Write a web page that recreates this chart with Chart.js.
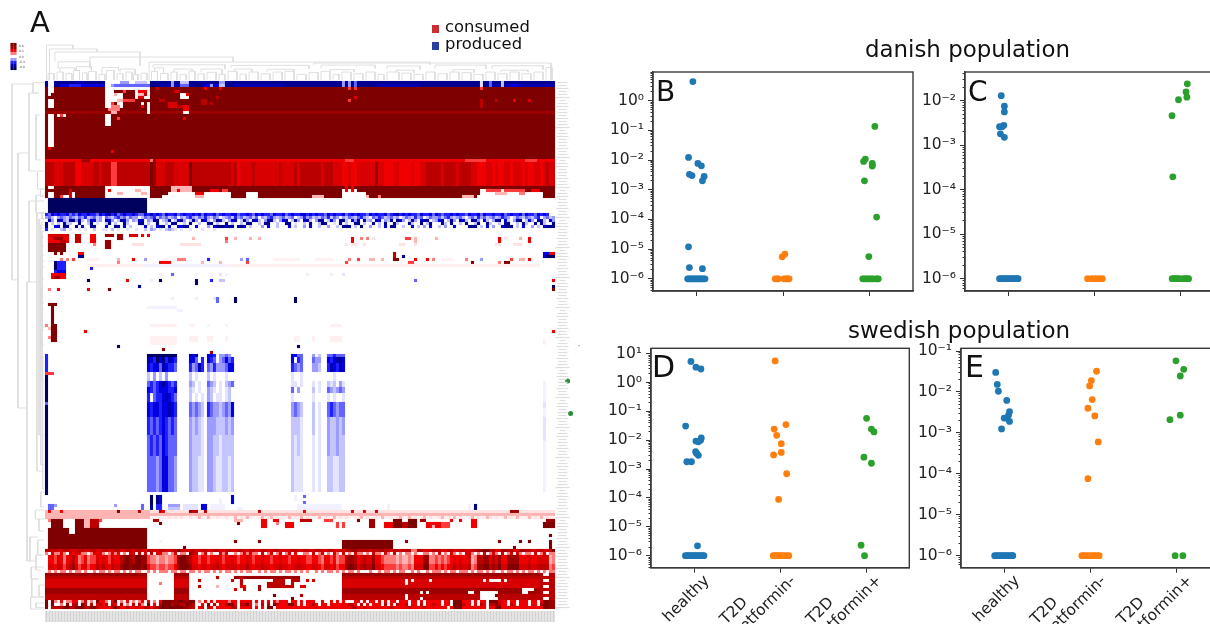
<!DOCTYPE html>
<html><head><meta charset="utf-8">
<style>
html,body{margin:0;padding:0;background:#fff;width:1210px;height:624px;overflow:hidden}
#page{position:relative;width:1210px;height:624px;overflow:hidden;font-family:"DejaVu Sans",sans-serif;color:#111}
canvas{position:absolute;filter:blur(.45px)}
#heat{filter:blur(.75px)}
.t{position:absolute;white-space:nowrap;line-height:1;filter:blur(.35px)}
.sq{position:absolute;width:7px;height:8px;filter:blur(.4px)}
</style>
<script src="https://cdn.jsdelivr.net/npm/chart.js@4"></script>
</head><body><div id="page">
<canvas id="heat"></canvas>
<canvas id="pB"></canvas><canvas id="pC"></canvas><canvas id="pD"></canvas><canvas id="pE"></canvas>
<div class="t" style="left:30px;top:8px;font-size:29px">A</div>
<div class="t" style="left:656px;top:78px;font-size:28px">B</div>
<div class="t" style="left:968px;top:78px;font-size:28px">C</div>
<div class="t" style="left:652px;top:352px;font-size:30px">D</div>
<div class="t" style="left:965px;top:352px;font-size:30px">E</div>
<div class="sq" style="left:432px;top:25px;background:#c9302f"></div>
<div class="sq" style="left:432px;top:42px;background:#2b3f9f"></div>
<div class="t" style="left:445px;top:19px;font-size:16.4px">consumed</div>
<div class="t" style="left:445px;top:36px;font-size:16.4px">produced</div>
<div class="t" style="left:865px;top:38px;font-size:22.9px">danish population</div>
<div class="t" style="left:848px;top:319px;font-size:23px">swedish population</div>
<div class="t" style="left:19px;top:44.5px;font-size:3px;color:#555">0.8</div>
<div class="t" style="left:19px;top:50px;font-size:3px;color:#555">0.4</div>
<div class="t" style="left:19px;top:55.7px;font-size:3px;color:#555">0.0</div>
<div class="t" style="left:19px;top:60.5px;font-size:3px;color:#555">-0.4</div>
<div class="t" style="left:19px;top:66px;font-size:3px;color:#555">-0.8</div>
</div>
<script>
// ---------- scatter panels ----------
const groupNames = [['', 'healthy'], ['T2D          ', 'metformin-'], ['T2D          ', 'metformin+']];
const floorValue = 1e-6;
const blue = '#1f77b4', orange = '#ff7f0e', green = '#2ca02c';

const bHealthyX = [-.04,-.09,.018,.058,-.08,-.05,.09,.07,-.09,-.08,.07];
const bHealthyY = [4.4,.0123,.0077,.0064,.0033,.003,.0028,.002,1.2e-5,2.4e-6,2.2e-6];
const bHealthyFloorX = [-.1,-.085,-.07,-.055,-.04,-.025,-.01,.005,.02,.035,.05,.065,.08,.1];
const bMetMinusX = [1.022,.99];
const bMetMinusY = [6.8e-6,5.5e-6];
const bMetMinusFloorX = [.91,.93,.945,1.01,1.03,1.045,1.06,1.07];
const bMetPlusX = [2.06,1.95,1.93,2.03,2.03,2.03,1.94,2.08,1.99];
const bMetPlusY = [.136,.0108,.009,.0077,.0068,.0063,.002,1.2e-4,5.6e-6];
const bMetPlusFloorX = [1.92,1.94,1.96,1.98,2,2.02,2.04,2.07,2.09,2.1];

const cHealthyX = [-.08,-.044,-.044,-.05,-.1,-.07,-.09,-.044];
const cHealthyY = [.013,.0075,.0056,.0028,.0026,.0026,.0018,.0015];
const cHealthyFloorX = [-.1,-.08,-.06,-.04,-.02,0,.02,.04,.06,.08,.1,.115];
const cMetMinusFloorX = [.92,.97,1.01,1.05,1.09];
const cMetPlusX = [2.075,2.06,2.07,1.973,1.898,1.907];
const cMetPlusY = [.024,.0157,.012,.0105,.0046,1.95e-4];
const cMetPlusFloorX = [1.9,1.92,1.94,1.96,1.98,2.02,2.05,2.07,2.09];

const dHealthyX = [-.036,.022,.08,-.098,.084,.076,.022,.05,.018,.03,.05,-.084,-.03,.04];
const dHealthyY = [5.4,3.4,2.95,.031,.012,.01,.0094,.0089,.004,.0035,.003,.0018,.0018,2.2e-6];
const dHealthyFloorX = [-.1,-.08,-.06,-.04,-.02,0,.02,.04,.06,.08,.1,.115];
const dMetMinusX = [.942,1.067,.93,.96,1.013,1.013,.924,1.076,.982];
const dMetMinusY = [5.6,.035,.0245,.0148,.0076,.0038,.0031,6.9e-4,8.9e-5];
const dMetMinusFloorX = [.92,.94,.96,.98,1,1.03,1.05,1.08,1.1];
const dMetPlusX = [2.004,2.06,2.09,1.973,2.06,1.94,1.98];
const dMetPlusY = [.0575,.0245,.0195,.0026,.0016,2.3e-6,1e-6];

const eHealthyX = [-.098,-.08,-.067,.03,.062,.05,0,.027,.062,-.03];
const eHealthyY = [.03,.0153,.0104,.0062,.0033,.0027,.0023,.0023,.0019,.00125];
const eHealthyFloorX = [-.11,-.09,-.07,-.05,-.03,-.01,.01,.03,.05,.07,.09,.1];
const eMetMinusX = [1.07,1.01,.99,1.02,.97,1.05,1.09,.97];
const eMetMinusY = [.032,.019,.014,.0065,.004,.0026,6e-4,7.6e-5];
const eMetMinusFloorX = [.9,.92,.94,.97,1,1.03,1.05,1.08,1.1];
const eMetPlusX = [1.99,2.08,2.04,2.04,1.92,1.98,2.07];
const eMetPlusY = [.0575,.0357,.0245,.0027,.0021,1e-6,1e-6];

const bTicks = [0,-1,-2,-3,-4,-5,-6], cTicks = [-2,-3,-4,-5,-6];
const dTicks = [1,0,-1,-2,-3,-4,-5,-6], eTicks = [-1,-2,-3,-4,-5,-6];

const SUP = {'-':'\u207B','0':'\u2070','1':'\u00B9','2':'\u00B2','3':'\u00B3','4':'\u2074','5':'\u2075','6':'\u2076','7':'\u2077','8':'\u2078','9':'\u2079'};
const pow10Label = e => '10' + String(e).split('').map(c => SUP[c]).join('');
const pts = (xs, ys) => xs.map((x, i) => ({x, y: ys[i]}));
const floorPts = xs => xs.map(x => ({x, y: floorValue}));

const boxPlugin = { id: 'box', afterDraw(c) {
  const a = c.chartArea, g = c.ctx; g.save(); g.strokeStyle = '#3a3a3a'; g.lineWidth = 1.4;
  g.strokeRect(a.left, a.top, a.right - a.left, a.bottom - a.top); g.restore(); } };

function panel(id, box, logMin, logMax, decades, series, labelled) {
  const cv = document.getElementById(id);
  const L = Math.round(box.l) - 52, T = Math.round(box.t) - 12;
  const W = Math.round(box.r) + 8 - L, H = (labelled ? 624 : Math.round(box.b) + 14) - T;
  cv.style.left = L + 'px'; cv.style.top = T + 'px'; cv.width = W; cv.height = H;
  new Chart(cv, {
    type: 'scatter',
    data: { datasets: series.map(s => ({ data: s.data, backgroundColor: s.color, borderWidth: 0, pointRadius: 3.4 })) },
    options: {
      responsive: false, animation: false, events: [], clip: false,
      layout: { autoPadding: false, padding: { top: box.t - T, right: W - (box.r - L), left: 0, bottom: 0 } },
      plugins: { legend: { display: false }, tooltip: { enabled: false } },
      scales: {
        x: { type: 'linear', min: -.5, max: 2.5,
          afterBuildTicks: s => { s.ticks = [{value:0},{value:1},{value:2}]; },
          afterFit: s => { s.height = H - (box.b - T); s.paddingLeft = 0; s.paddingRight = 0; },
          grid: { drawOnChartArea: false, tickLength: 5, tickColor: '#333', tickWidth: 1 },
          border: { color: '#3a3a3a', width: 1.4 },
          ticks: { display: labelled, autoSkip: false, minRotation: 45, maxRotation: 45, padding: -14, labelOffset: 0, color: '#222',
            font: { family: 'DejaVu Sans', size: 15.5 }, callback: v => groupNames[v] } },
        y: { type: 'logarithmic', min: Math.pow(10, logMin), max: Math.pow(10, logMax),
          afterBuildTicks: s => {
            const out = [];
            for (let e = Math.floor(logMin); e <= Math.ceil(logMax); e++) for (let m = 1; m < 10; m++) {
              const lv = e + Math.log10(m);
              if (lv >= logMin && lv <= logMax) out.push({ value: m * Math.pow(10, e), major: m === 1 && decades.includes(e), exp: e });
            }
            s.ticks = out;
          },
          afterFit: s => { s.width = box.l - L; s.paddingTop = 0; s.paddingBottom = 0; },
          grid: { drawOnChartArea: false, tickLength: 5, tickColor: '#333', tickWidth: 1,
            tickBorderDash: c => (c.tick && c.tick.major) ? [] : [0, 2.5, 2.5, 100] },
          border: { color: '#3a3a3a', width: 1.4 },
          ticks: { autoSkip: false, padding: 4, color: '#222', font: { family: 'DejaVu Sans', size: 15.5 },
            major: { enabled: true },
            callback: function (v, i, arr) { const t = arr[i]; return t.major ? pow10Label(t.exp) : ''; } } }
      }
    },
    plugins: [boxPlugin]
  });
}

panel('pB', {l:653,t:72,r:913,b:291}, -6.41, .967, bTicks, [
  {color: blue, data: pts(bHealthyX,bHealthyY).concat(floorPts(bHealthyFloorX))},
  {color: orange, data: pts(bMetMinusX,bMetMinusY).concat(floorPts(bMetMinusFloorX))},
  {color: green, data: pts(bMetPlusX,bMetPlusY).concat(floorPts(bMetPlusFloorX))}], false);
panel('pC', {l:965,t:72,r:1224,b:291}, -6.276, -1.355, cTicks, [
  {color: blue, data: pts(cHealthyX,cHealthyY).concat(floorPts(cHealthyFloorX))},
  {color: orange, data: floorPts(cMetMinusFloorX)},
  {color: green, data: pts(cMetPlusX,cMetPlusY).concat(floorPts(cMetPlusFloorX))}], false);
panel('pD', {l:651,t:348.3,r:909.3,b:567.7}, -6.416, 1.187, dTicks, [
  {color: blue, data: pts(dHealthyX,dHealthyY).concat(floorPts(dHealthyFloorX))},
  {color: orange, data: pts(dMetMinusX,dMetMinusY).concat(floorPts(dMetMinusFloorX))},
  {color: green, data: pts(dMetPlusX,dMetPlusY)}], true);
panel('pE', {l:961,t:348.3,r:1220,b:567.7}, -6.293, -.934, eTicks, [
  {color: blue, data: pts(eHealthyX,eHealthyY).concat(floorPts(eHealthyFloorX))},
  {color: orange, data: pts(eMetMinusX,eMetMinusY).concat(floorPts(eMetMinusFloorX))},
  {color: green, data: pts(eMetPlusX,eMetPlusY)}], true);

// ---------- heat map (A): column / row index data, level codes: z,1-9 consumed, y,a-i produced, '.' none ----------
const levelColors = {z:'#fff1f1','1':'#ffe2e2','2':'#ffb4b4','3':'#ff7c7c','4':'#ff3c3c','5':'#f00000','6':'#d80000','7':'#bc0000','8':'#9c0000','9':'#7f0000',
  y:'#f1f1ff',a:'#e4e4ff',b:'#c4c4ff',c:'#9c9cff',d:'#6464ff',e:'#2020ff',f:'#0000e0',g:'#0000b0',h:'#000090',i:'#000060'};
const nCols = 170, nRows = 176;
// [firstRow, endRow, firstCol, endCol, level]
const heatRuns = [
 [0,1,0,170,'h'],[1,2,0,170,'h'],[2,26,0,170,'9'],[10,11,0,170,'8'],
 [1,2,5,20,'f'],[1,2,8,12,'e'],[0,1,10,13,'g'],[1,2,38,48,'g'],[1,2,53,60,'f'],[1,2,63,80,'g'],[1,2,110,125,'g'],[1,2,148,170,'g'],
 [0,2,42,43,'c'],[0,2,45,48,'b'],[1,2,45,48,'d'],[1,2,55,56,'c'],[0,1,58,60,'c'],[1,2,58,60,'b'],
 [0,2,99,100,'c'],[0,2,101,102,'c'],[0,2,103,104,'d'],[0,2,145,146,'a'],[0,2,148,149,'d'],[0,2,152,153,'b'],[1,2,155,158,'f'],
 [0,4,1,3,'.'],[4,5,1,2,'.'],[6,9,1,3,'.'],[11,22,1,3,'.'],[22,23,1,2,'5'],[11,12,4,7,'.'],[11,12,5,6,'4'],
 [0,2,20,35,'.'],[1,2,23,35,'d'],[0,1,25,28,'c'],[0,1,30,34,'b'],[1,2,22,23,'c'],
 [2,3,20,35,'.'],[3,4,20,23,'.'],[3,5,30,35,'.'],[3,4,26,27,'4'],[3,4,31,34,'5'],[4,5,33,34,'7'],[4,6,20,26,'.'],[4,5,31,33,'2'],[4,5,23,24,'2'],
 [5,6,30,35,'.'],[5,6,31,33,'6'],[6,9,20,26,'.'],[6,7,24,26,'2'],[6,7,26,30,'4'],[7,8,23,24,'9'],[7,8,22,23,'4'],[8,9,22,25,'3'],[7,8,32,33,'.'],[8,9,32,33,'5'],
 [7,11,34,35,'.'],[9,10,21,25,'3'],[10,11,22,24,'2'],[11,15,20,22,'.'],[12,13,24,25,'4'],[23,24,22,23,'5'],
 [2,3,37,38,'7'],[3,4,43,45,'6'],[4,6,45,48,'.'],[4,5,47,48,'5'],[6,7,38,40,'7'],[7,9,41,44,'6'],[8,10,46,48,'5'],[8,9,44,46,'7'],[10,11,46,48,'.'],[12,13,46,47,'5'],
 [2,3,53,54,'5'],[6,8,52,54,'7'],[7,8,55,56,'7'],[2,3,58,59,'5'],[5,6,57,58,'7'],
 [2,3,101,102,'4'],[6,7,101,102,'4'],[2,3,103,104,'4'],[5,6,103,104,'6'],[2,3,145,146,'4'],[6,9,145,146,'7'],[6,7,150,151,'7'],[6,7,156,157,'5'],[6,7,161,162,'6'],
 [26,27,0,170,'5'],[26,27,12,15,'8'],[26,27,36,37,'8'],[26,27,35,36,'3'],[26,27,100,103,'4'],[26,27,140,147,'4'],[26,27,160,164,'4'],
 // rows 35..38: dark band with white skyline
 [35,39,0,170,'9'],[35,36,1,3,'.'],[37,39,1,3,'.'],[38,39,6,8,'.'],[37,39,9,10,'.'],[38,39,5,6,'4'],[36,39,8,9,'6'],
 [35,39,20,35,'.'],[36,37,21,22,'5'],[37,38,24,26,'2'],[36,37,30,32,'2'],[37,38,32,34,'2'],
 [38,39,39,41,'.'],[37,39,41,50,'.'],[35,37,42,49,'2'],[36,37,44,45,'5'],[38,39,50,53,'2'],[37,38,50,53,'5'],[37,39,53,62,'.'],[36,37,55,58,'5'],[36,37,59,61,'4'],
 [37,39,67,71,'.'],[38,39,89,93,'2'],[36,39,99,104,'.'],[35,37,100,101,'5'],[35,37,102,103,'5'],[37,39,104,107,'.'],[38,39,107,108,'2'],[38,39,111,112,'3'],
 [38,39,139,143,'2'],[38,39,144,147,'.'],[36,39,145,147,'.'],[37,39,147,166,'.'],[36,37,147,160,'4'],[37,38,150,154,'2'],[36,37,152,153,'.'],[37,38,158,160,'3'],[36,37,162,165,'5'],
 // produced block
 [39,44,1,34,'i'],
 // scattered rows
 [51,52,1,8,'6'],[52,54,1,8,'5'],[52,53,3,6,'8'],[53,54,5,7,'7'],[51,54,10,12,'7'],[51,54,15,17,'5'],[54,55,16,17,'3'],[51,52,20,23,'8'],[51,53,24,26,'8'],
 [51,52,28,31,'6'],[51,52,32,33,'5'],[51,52,34,35,'5'],[54,57,1,7,'9'],[57,58,3,4,'9'],[57,58,5,6,'9'],[53,56,20,22,'8'],[54,55,29,33,'1'],[54,55,45,52,'1'],
 [52,53,49,50,'2'],[52,53,60,61,'4'],[53,54,60,61,'3'],[52,53,63,64,'2'],[52,53,68,69,'2'],[52,53,71,72,'2'],
 [52,54,102,103,'5'],[52,53,105,106,'3'],[52,53,107,108,'3'],[52,53,109,110,'1'],[52,53,120,122,'4'],[52,54,123,124,'2'],[52,53,130,131,'2'],[52,54,151,152,'5'],[52,53,153,154,'1'],[52,53,158,159,'2'],[52,54,161,162,'5'],
 [54,55,100,101,'1'],[54,55,102,104,'1'],[54,55,106,107,'1'],[54,55,118,120,'1'],[54,55,123,124,'1'],[54,55,156,159,'1'],[54,55,150,152,'1'],
 [57,58,11,13,'5'],[58,59,11,13,'h'],[57,59,116,117,'7'],[58,59,119,120,'h'],[57,59,166,170,'f'],[58,59,167,170,'i'],[57,58,168,170,'5'],[59,60,116,118,'9'],
 [59,60,5,6,'3'],[59,60,7,8,'3'],[59,60,9,10,'4'],[59,60,14,18,'z'],[59,60,24,25,'2'],[59,60,29,30,'5'],[59,60,33,34,'c'],[59,60,39,41,'z'],[59,60,44,47,'3'],[59,60,54,55,'e'],[59,60,65,66,'c'],[59,60,67,68,'d'],[59,60,76,85,'z'],
 [59,60,90,96,'z'],[59,60,101,102,'3'],[59,60,104,105,'4'],[59,60,108,110,'2'],[59,60,112,113,'2'],[59,60,123,124,'5'],[59,60,127,128,'5'],[59,60,129,130,'3'],[59,60,132,136,'z'],[59,60,140,141,'3'],[59,60,145,146,'c'],[59,60,155,156,'4'],[59,60,158,160,'2'],[59,60,161,162,'5'],
 [60,61,24,25,'3'],[60,61,38,42,'5'],[60,61,52,53,'2'],[60,61,58,59,'2'],[60,61,67,68,'4'],[60,61,100,101,'4'],[60,61,121,123,'4'],[60,61,142,143,'9'],[60,61,153,155,'9'],[60,61,151,152,'3'],
 [61,62,14,165,'z'],[61,62,33,60,'y'],[60,64,3,7,'e'],[60,63,3,4,'i'],[63,64,4,7,'f'],[62,63,15,16,'e'],[64,66,2,7,'5'],[65,66,3,5,'8'],
 [64,65,38,39,'y'],[64,65,42,43,'d'],[64,65,50,51,'y'],[64,65,55,56,'y'],[64,65,58,59,'a'],[64,65,60,61,'y'],[64,65,87,88,'y'],[64,65,95,96,'y'],[64,65,99,100,'a'],
 [66,67,14,15,'i'],[66,67,27,28,'5'],[66,67,35,36,'y'],[66,67,38,39,'i'],[66,68,50,51,'i'],[66,67,55,56,'e'],[66,67,58,59,'b'],[66,67,59,60,'b'],[66,67,123,124,'d'],[66,67,169,170,'5'],
 [68,69,31,32,'h'],[68,69,169,170,'i'],[69,70,1,2,'3'],[69,70,4,5,'5'],[69,70,14,15,'5'],[69,70,21,22,'9'],[69,70,169,170,'9'],
 [72,73,42,43,'y'],[72,73,50,51,'y'],[72,73,56,57,'a'],[72,74,57,58,'d'],[72,74,63,64,'i'],[72,74,83,84,'i'],
 [74,75,1,4,'9'],[75,81,2,3,'9'],[81,87,2,4,'9'],[75,76,34,44,'y'],[76,77,44,46,'y'],
 [81,82,0,1,'3'],[83,84,13,14,'5'],[83,84,169,170,'5'],[82,83,1,2,'2'],[85,86,1,2,'3'],
 [81,82,35,44,'z'],[81,82,48,50,'z'],[81,82,54,55,'z'],[81,82,60,61,'z'],[85,88,35,44,'z'],[85,87,48,51,'z'],[85,87,54,56,'z'],[85,87,60,61,'z'],[85,87,83,85,'z'],[85,87,89,90,'z'],[81,82,95,99,'z'],[85,87,95,99,'z'],
 [88,89,24,25,'i'],[89,90,39,40,'9'],[90,91,55,56,'8'],[88,89,84,85,'i'],[86,88,166,167,'z'],
 // left narrow column
 [91,97,0,1,'e'],[97,138,0,1,'i'],[97,98,0,3,'4'],[107,108,0,1,'d'],[100,137,166,167,'y'],[112,120,166,167,'a'],[107,109,166,167,'a'],
 // below block
 [138,142,35,36,'i'],[138,141,38,39,'f'],[138,141,37,38,'h'],[139,141,58,59,'y'],[138,141,62,63,'f'],[138,139,86,87,'d'],[140,141,86,87,'d'],[138,140,83,84,'y'],
 [141,143,1,3,'d'],[141,142,3,4,'c'],[141,142,23,24,'c'],[141,143,32,33,'d'],[141,143,35,36,'h'],[141,143,37,39,'e'],[141,142,41,45,'c'],[142,143,41,45,'b'],[141,143,52,54,'f'],[141,143,46,51,'a'],[141,143,55,60,'y'],[142,143,64,66,'y'],[141,143,84,99,'y'],[141,143,141,142,'y'],[141,143,143,144,'h'],[141,143,114,115,'y'],
 [143,144,0,170,'1'],[144,145,0,170,'2'],[145,146,0,170,'z'],[143,146,0,35,'2'],
 // dark blocks
 [146,149,2,6,'9'],[146,151,10,13,'9'],[146,149,13,15,'2'],[146,149,15,18,'7'],[146,147,18,19,'4'],[149,156,1,34,'9'],[149,151,8,10,'.'],[149,150,6,8,'9'],[146,147,1,2,'3'],
 [146,147,36,38,'7'],[147,148,38,39,'9'],[147,148,64,65,'9'],[146,147,63,66,'2'],[145,146,67,68,'7'],[146,149,72,74,'5'],[146,147,76,78,'5'],[147,148,77,78,'3'],[147,149,80,83,'5'],
 [146,147,85,89,'7'],[146,147,93,96,'4'],[147,149,97,98,'4'],[147,149,99,100,'4'],[146,147,104,105,'9'],[146,149,108,110,'8'],[147,149,113,116,'5'],[146,149,116,119,'9'],[147,149,119,121,'7'],[146,149,121,124,'9'],[146,147,125,127,'8'],
 [147,149,127,132,'5'],[148,149,129,130,'2'],[147,149,132,135,'4'],[146,147,135,136,'5'],[146,147,138,139,'5'],[146,149,142,144,'5'],[147,149,166,170,'9'],[146,147,167,170,'8'],
 [153,154,38,39,'z'],[153,154,63,64,'9'],[153,154,71,72,'9'],[153,156,99,116,'9'],[153,154,120,121,'8'],[153,154,151,152,'9'],[155,156,156,157,'9'],[153,154,158,159,'9'],[153,154,161,162,'9'],[151,152,168,169,'9'],[153,156,168,169,'9'],[155,156,46,47,'9'],
 // horizontal bands
 [164,165,0,34,'8'],[165,166,0,34,'7'],[166,167,0,34,'6'],[167,169,0,34,'6'],[169,171,0,34,'8'],[171,173,0,34,'7'],
 [164,165,43,48,'8'],[165,166,43,48,'7'],[166,169,43,48,'6'],[169,171,43,48,'8'],[171,173,43,48,'7'],
 [164,165,99,165,'8'],[165,166,99,165,'7'],[166,169,99,165,'6'],[169,171,99,165,'8'],[171,173,99,165,'7'],
 [164,173,165,166,'7'],[164,173,168,170,'7'],[165,166,166,168,'7'],[167,168,166,168,'7'],[169,170,166,168,'7'],[171,172,166,168,'7'],
 [167,168,38,39,'3'],[170,171,38,39,'z'],[166,167,51,52,'7'],[168,169,51,52,'7'],[165,166,57,58,'7'],[166,167,62,63,'6'],
 [165,166,63,85,'8'],[165,168,65,66,'7'],[168,169,65,67,'6'],[168,170,71,72,'8'],[167,169,74,83,'7'],[166,167,76,85,'7'],[166,168,80,82,'.'],[169,170,63,64,'6'],[169,170,66,67,'6'],[171,172,76,77,'9'],[172,173,82,83,'9'],[168,169,57,58,'2'],[168,169,60,61,'z'],
 [166,167,87,88,'6'],[166,167,89,90,'6'],[168,169,85,87,'6'],[171,172,85,86,'7'],
 [166,167,120,121,'.'],[166,167,122,123,'.'],[166,167,128,129,'.'],[167,168,120,121,'.'],[170,171,125,126,'.'],[170,171,127,128,'.'],[171,172,120,121,'.'],[170,171,141,143,'.'],[166,167,146,147,'.'],[166,167,148,152,'.'],[166,167,153,154,'.'],
 [170,173,145,151,'.'],[171,172,150,151,'9'],[169,171,159,161,'.'],[169,170,161,163,'.'],[172,173,125,126,'.'],[172,173,120,121,'.']
];
// [firstRow, endRow, firstCol, per-column levels]
const heatStripes = [
 [27,35,0,'7776667777 5566667767 7744777777 7777798666 7776666697 7777777777 7767566667 6666666676 6667677777 7767776665 5655666666 8665556655 5565566777 7767777677 7766555665 6556656665 6556656766'],
 [44,45,0,'edfefeefde dfeefeedfe fgefdefeef eddfegefed feefdefeef efdfeefdef eeffdeefed fefeedfeef defeefgefe feedfefeef defefeedfe feefdefgef efeedfeefd fedeefefee dfeefdfeef eefdefeefd feedfefe'],
 [45,46,0,'cdb.cdcbdc bdcebcdbc. dcbdecdbdc c.bdcdebdc dbcd.cbdec bdcecbdc.b cdbecdbcdb d.cbdecbcd bcd.bcecdb cbdcebdc.c bdcbdecb.d cedbcdbc.b dcbecd.bdc cdbdecbcdb .cdbecdbcd bcedc.bdcb dcbde.cdbc'],
 [46,47,0,'.gc.gfcbgh cgb.cgfbc. gfc.bhgc.c bfg.cbgh.b cg.bfhc.bg c.gfb.chgb .cfg.bhc.g fb.cghb.cf g.bhc.fgb. chg.bfc.gh b.fcg.hbc. gf.cbg.hfc .bgc.fhg.b cfg.bhc.gf b.hgc.fb.c gh.fb.cgh. bfc.ghb.fc'],
 [47,48,0,'h.b.b.hbb. .h..bh.a.. bh.b..hb.. .hh.b..h.. b.hh..b.h. .b..hh.b.. h.b..b.hh. .b.hh..b.. hh.a..b.h. .bhh..a.h. b..hh.b..h .b.h..hb.. .hb..h.bh. ..hb.h..b. h..bh..hb. .b.hh..b.h b..h.hb..h'],
 [48,49,0,'h..ff.hh.. h.f..hh... f..hh.f.b. ...f.b.fhh .f..ffhh.. f...c.fhhh fhh.ghf.b. ..c.f..b.. .f.b..c.f. .b..c..b.h hh.b.i..c. .b.f.hh..b ..f.b.c.f. .b.c..f... .hhh.b.f.c ..fhhh.b.f ..c.b.fhhh'],
 [49,50,0,'e.a..bc.a. .a.a..b..a a.b.a..a.. a..b.cb.a. bcba.a..a. ..a...a...'],
 [156,157,0,'7767667766 6776677667 7667766776 7766776677 6677976677 6677667766 7766776677 6677667766 6677667766 7766776666 7788777767 7787767767 7733776667 7766776677 6677889977 6688776688 7766776679'],
 [157,158,0,'3.63363.65 6633.36563 .3635.3.66 .7.6.7.663 3.36.33.87 6.36.3..63 6..3.36363 3.6.36.36. 36.6..33.6 .36.3.63.6 .3.633.3.6 33.63.6.3. 33.3..33.3 .6.3.63.3. 663.3.6.36 3.6.36.63. 33.6.36.33'],
 [158,161,0,'.554653567 5345344656 5465578987 9988433233 2334899875 5455455654 5565455654 5565545565 5455655445 5435545344 7887567668 5543333232 2325558833 4343456565 5623778867 6855888855 5655666623'],
 [161,163,0,'.665764678 6456455767 6576689989 9989544344 3445899986 6566566765 6676566765 6676656676 6566766556 6546656455 8998678779 6654444343 3436669944 5454567676 6734889978 7966999966 6766777734'],
 [163,164,0,'.3.3.33.3. 33.3..3.33 .3.33.3.3. 33..3.3.33 3.33.33.33 .3.33.3.3. 33.3.3.33. .3.3.33.3. 33.3.3.3.. 3.3.33.3.3 .33.3...3. .3.33.3.33 ..3.3..3.3 33.3.33.33 3.3.33.3.3 ..3.33.3.3 .33.3.3.33'],
 [173,174,0,'9.93.5.335 5.36.3.955 3.59.3.5.3 .35.5.3.59 9988998899 .3.5.5.555 5355.5555. 5.5.5.5355 5.55.5.555 ..5..5.5.5 ...55.5.55 .5.5.55.55 5.55.5.555 55.55.9995 55.5.55.99 9655.55.55 5.55.59988'],
 [174,175,0,'9.9..3.9.7 7.97.7.675 7.75.7.3.7 .73.9.5.79 9978877987 ..5.9.7.55 7995.7795. 3.7.7.9755 5995.5.557 5.55.55555 5775.7.5.5 55.7.5.755 7.55.7.557 55.55.9997 55.5.75.77 9755.75.55 5.55.79988'],
 [175,176,0,'9.77779977 9997799755 5579755755 7557757799 9999998877 .57.75.555 5577.5555. 5.5.99.555 5555555555 5555555555 5577557555 5555575555 5755557555 5555.59995 5555555.55 9955555555 5555559988']
];
// spots laid over the pale band: '.' leaves the band as it is
const bandSpots = [
 [143,144,0,'.5...5.... .......... ....9..... .7......75 ........87 7..7...... ...........7 ..........  ....5..... .......... 6...6...6. .......... .......... .......... .......... ...888.... ..........'],
 [145,146,0,'.......... .......... .......... .......... .1.1.1..1. .2..2..1.. 1..2.1.2.. ..2.12.1.. .2.1.2.1.. .2.1..2.1. 1...12.1.. 1.2..1.12. .2.1..2.1. .12.1.2.1. ..2.1..21. 1..2.1.2.. .2.1.2.1..']
];
// groups of produced columns and their levels per row span
const blockCols = [34,48,54,58,82,89,91,94];
const blockBands = [
 [91,92,['iiiiiiiiii','gfh..','ffe.','ccdc.','ffdd','c','b','ddeddd']],
 [92,94,['hfeifhegfe','ffd.e','fed.','cdfde','f.ed','dc','c','fefghf']],
 [94,97,['feffdgfeed','ecdge','dcec','ccdff','edcd','cc','b','egfegf']],
 [97,100,['b.c.b.c...','b.a..','b.a.','..a..','a..a','.','.','..a...']],
 [100,102,['dedefhfede','cb.a.','dcb.','a.bcd','aa.a','a','a','bab.ca']],
 [102,104,['fedefffeef','ba.a.','cba.','a.ab.','d.c.','b','a','dcbcdc']],
 [104,107,['e.deefgfed','b.a.a','cb.a','a.ab.','a...','a','.','a.a..a']],
 [107,112,['feffeffgfe','dcdcb','edcc','bcdcf','cdcb','b','a','dedcdd']],
 [112,118,['ededefeded','cbcba','cccb','bbcbc','bbba','b','a','cbbcbc']],
 [118,125,['dededfeddd','cbbba','ccbb','abbbb','baba','a','a','cbbcbb']],
 [125,137,['dddcdffddc','cbbaa','ccba','abbab','baaa','a','a','bbaabb']]
];
const colorbarLevels = ['9','8','5','3','.','c','e','g','i'];
const colorbarFirstRow = -12.17;
// tree links: [from, to, level, end1, end2]
const topTreeLinks = [
 [.5,9.3,-12,-.3,-10.67],[1.5,17.3,-10.67,-.3,-9.67],[3.3,31.7,-9.67,-6.5,-5],[15,62.7,-8,-6.4,-6.3],[4.4,15,-6.4,-4,-4.2],
 [34.7,128.4,-6.3,-.3,-5.4],[89.6,168.7,-6,-5.4,-.3],[36,60,-5.4,-4.4,-4],[62,88,-5.2,-4.5,-4],[92,110,-5.3,-4.3,-4.2],[114,125,-5,-4,-3.8],[130,147,-5.3,-4.2,-4],[149,166,-5.1,-4,-3.8],
 [5,10,-4.4,-3,-3.5],[10.5,15.5,-4.8,-3.5,-3.2],[19,24.5,-4.5,-2.2,-3.5],[25,30,-4,-3,-2.2],[36.5,39.5,-4.4,-3.2,-2.5],[43,49,-4,-3,-3.3],[52,59,-4,-2.9,-2.2],[63,69,-4,-3.2,-3],[74,83,-3.9,-3,-3.2],[95,103,-3.8,-3.2,-3],[117,123,-3.6,-3,-2.6],[136,143,-3.8,-3,-2.8],[152,161,-3.6,-3,-3],
 [1,3,-2.5,-.3,-.3],[4,6,-3,-.3,-.3],[7,9,-2.5,-.3,-.3],[9.5,11.5,-3.5,-.3,-.3],[12.5,14,-2.7,-.3,-.3],[14.5,17,-3.2,-.3,-.3],[18,20,-2.2,-.3,-.3],[20.5,23,-3.5,-.3,-.3],[24,26,-2.4,-.3,-.3],[27,29,-3,-.3,-.3],[29.5,31,-2.2,-.3,-.3],[32,34,-2.6,-.3,-.3],
 [35.5,37.5,-3.2,-.3,-.3],[38.5,41,-2.5,-.3,-.3],[42,44,-3,-.3,-.3],[45,47,-2.2,-.3,-.3],[48,50,-3.3,-.3,-.3],[51,53,-2.4,-.3,-.3],[54,57,-2.9,-.3,-.3],[58,60,-2.2,-.3,-.3],[61,64,-3.2,-.3,-.3],[65,67,-2.3,-.3,-.3],[68,71,-3,-.3,-.3],[72,75,-2.4,-.3,-.3],[76,79,-3,-.3,-.3],[80,83,-3.2,-.3,-.3],[84,87,-2.2,-.3,-.3],[88,91,-2.8,-.3,-.3],[92,95,-3.2,-.3,-.3],[96,98,-2.2,-.3,-.3],[99,102,-3,-.3,-.3],[103,106,-2.4,-.3,-.3],[107,110,-3,-.3,-.3],[111,113,-2.2,-.3,-.3],[114,118,-3,-.3,-.3],[119,122,-2.6,-.3,-.3],[123,126,-2.2,-.3,-.3],[127,130,-3,-.3,-.3],[131,134,-2.4,-.3,-.3],[135,138,-3,-.3,-.3],[139,142,-2.8,-.3,-.3],[143,146,-2.2,-.3,-.3],[147,150,-3,-.3,-.3],[151,154,-2.4,-.3,-.3],[155,158,-3,-.3,-.3],[159,162,-2.4,-.3,-.3],[163,166,-3,-.3,-.3],[167,169,-4.5,-.3,-.3]
];
const leftTreeLinks = [
 [1,66.3,-11,-4,-9],[.5,4,-4,-.3,-2],[4,30,-5.3,-2,-3],[11.3,26.3,-3,-1.6,-1.4],[24,109,-9,-5.3,-6],[30,36,-2.5,-.3,-.3],[36,38.5,-1.5,-.3,-.3],
 [40,67,-5.3,-.3,-6],[67,160,-6,-3,-4.8],[44,130,-2.7,-.3,-.3],[46,118,-2,-.3,-.3],[48,128,-1.4,-.3,-.3],[50,100,-1,-.3,-.3],[92,136,-.8,-.3,-.3],[38,44,-3,-.3,-.3],
 [44,46,-1,-.3,-.3],[47,49,-1.2,-.3,-.3],[52,55,-1.5,-.3,-.3],[58,60,-1.2,-.3,-.3],[62,66,-1.4,-.3,-.3],[69,74,-1.2,-.3,-.3],[76,82,-1,-.3,-.3],[83,88,-1.3,-.3,-.3],
 [137,142,-1.4,-.3,-.3],[143,146,-3.2,-.3,-2],[146,150,-2,-.3,-.3],[152,160,-5,-2.4,-3],[153,158,-2.4,-.3,-.3],[158,163,-3,-1,-1.4],[162,166,-4.6,-.3,-2.2],[166,172,-4.4,-2,-3],[168,172,-2,-.3,-.3],[172,176,-4.8,-.3,-.3],[174,175.5,-3,-.3,-.3]
];
const rowLabelLengths = [5,4,6,4,5,7,3,5,6,4];

// build cell list from the tables
const grid = Array.from({length: nRows}, () => new Array(nCols).fill('.'));
function put(r0, r1, c0, c1, lv) { for (let r = r0; r < r1 && r < nRows; r++) for (let c = c0; c < c1 && c < nCols; c++) grid[r][c] = lv; }
function stripe(r0, r1, c0, s, skipEmpty) { const t = s.replace(/ /g, ''); for (let r = r0; r < r1; r++) for (let i = 0; i < t.length && c0 + i < nCols; i++) if (!skipEmpty || t[i] !== '.') grid[r][c0 + i] = t[i]; }
heatStripes.forEach(s => stripe(s[0], s[1], s[2], s[3]));
blockBands.forEach(b => b[2].forEach((s, i) => stripe(b[0], b[1], blockCols[i], s)));
heatRuns.forEach(x => put(x[0], x[1], x[2], x[3], x[4]));
bandSpots.forEach(s => stripe(s[0], s[1], s[2], s[3], true));

const cells = [], cellColors = [];
grid.forEach((row, r) => row.forEach((lv, c) => { if (lv !== '.') { cells.push({x: c + .5, y: r + .5}); cellColors.push(levelColors[lv]); } }));
colorbarLevels.forEach((lv, i) => { if (lv !== '.') [-11, -10].forEach(x => { cells.push({x, y: colorbarFirstRow + i}); cellColors.push(levelColors[lv]); }); });

const treePath = [];
topTreeLinks.forEach(l => treePath.push({x:l[0],y:l[3]},{x:l[0],y:l[2]},{x:l[1],y:l[2]},{x:l[1],y:l[4]},{x:l[0],y:null}));
leftTreeLinks.forEach(l => treePath.push({x:l[3],y:l[0]},{x:l[2],y:l[0]},{x:l[2],y:l[1]},{x:l[4],y:l[1]},{x:l[2],y:null}));

const rowMarks = [], colMarks = [];
for (let r = 0; r < nRows; r++) rowMarks.push({x: 172.5, y: r + .5});
for (let c = 0; c < nCols; c++) colMarks.push({x: c + .5, y: 178.5});

const hc = document.getElementById('heat');
hc.style.left = '0px'; hc.style.top = '0px'; hc.width = 600; hc.height = 624;
new Chart(hc, {
  type: 'scatter',
  data: { datasets: [
    { data: treePath, showLine: true, spanGaps: false, borderColor: '#dcdcdc', borderWidth: .9, pointRadius: 0 },
    { data: cells, pointStyle: 'rect', pointRadius: 2.2, pointBorderWidth: 0, pointBackgroundColor: cellColors },
    { data: rowMarks, pointStyle: 'line', pointRadius: (c) => rowLabelLengths[c.dataIndex % 10], pointBorderWidth: 1.2, pointBorderColor: '#dedede' },
    { data: colMarks, pointStyle: 'line', pointRotation: 90, pointRadius: 5.5, pointBorderWidth: 2.2, pointBorderColor: '#d2d2d2' },
    { data: [{x:174.2,y:100},{x:175.2,y:110.8}], pointRadius: 2.5, backgroundColor: '#2e8b3a', borderWidth: 0 },
    { data: [{x:178,y:88.2}], pointRadius: .7, backgroundColor: '#888', borderWidth: 0 }
  ] },
  options: {
    responsive: false, animation: false, events: [],
    layout: { autoPadding: false, padding: 0 },
    plugins: { legend: { display: false }, tooltip: { enabled: false } },
    scales: {
      x: { type: 'linear', display: false, min: -15, max: 185 },
      y: { type: 'linear', display: false, reverse: true, min: -27, max: 181 }
    }
  }
});
</script>
</body></html>
